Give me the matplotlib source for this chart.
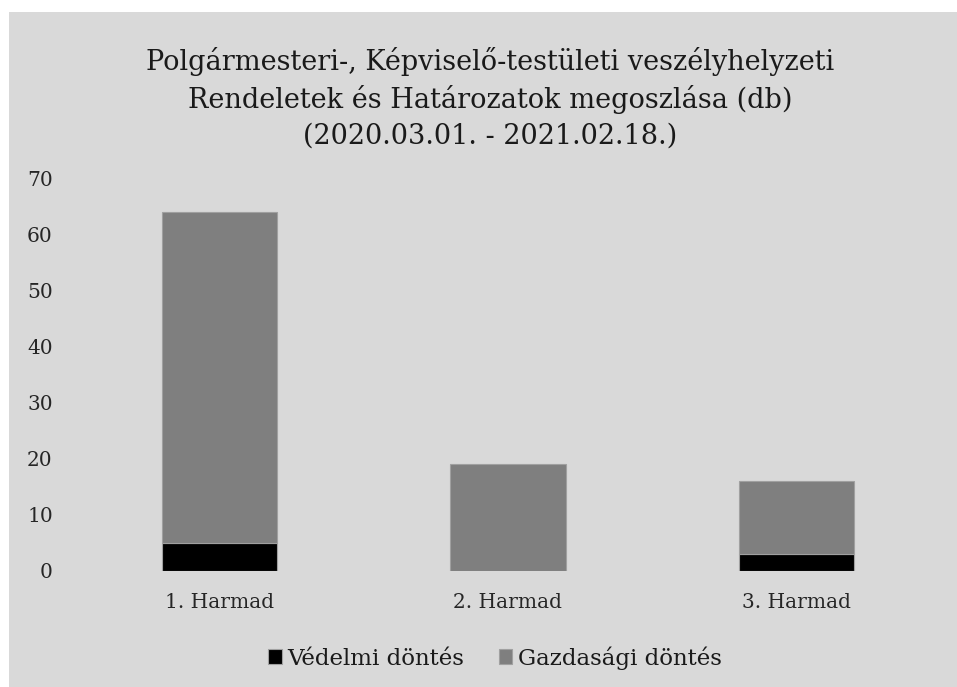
import matplotlib.pyplot as plt
import numpy as np
from matplotlib.patches import Rectangle

categories = ["1. Harmad", "2. Harmad", "3. Harmad"]
vedelmi = [5, 0, 3]
gazdasagi = [59, 19, 13]
yticks = [0, 10, 20, 30, 40, 50, 60, 70]
title = ("Polgármesteri-, Képviselő-testületi veszélyhelyzeti\n"
         "Rendeletek és Határozatok megoszlása (db)\n"
         "(2020.03.01. - 2021.02.18.)")

plt.rcParams["font.family"] = ["DejaVu Serif"]
BG = "#d9d9d9"
W, H = 957, 687

fig = plt.figure(figsize=(W / 100, H / 100), dpi=100, facecolor="white")
bg = Rectangle((9 / W, 0), 1 - 9 / W, 1 - 12 / H, transform=fig.transFigure,
               facecolor=BG, edgecolor="none", zorder=-10)
fig.add_artist(bg)

ax = fig.add_axes([75 / W, 1 - 571 / H, (941 - 75) / W, (571 - 178) / H])
ax.set_facecolor("none")
ax.set_zorder(2)

x = np.arange(len(categories))
ax.bar(x, vedelmi, width=0.4, color="black", edgecolor="#a0a0a0",
       linewidth=0.8, label="Védelmi döntés")
ax.bar(x, gazdasagi, width=0.4, bottom=vedelmi, color="#7f7f7f",
       edgecolor="#a0a0a0", linewidth=0.8, label="Gazdasági döntés")

ax.set_xlim(-0.5, len(categories) - 0.5)
ax.set_ylim(0, 70)
ax.set_yticks(yticks)
ax.set_xticks(x)
ax.set_xticklabels(categories)
ax.tick_params(axis="both", length=0, labelsize=14.5, colors="#262626")
ax.tick_params(axis="y", pad=16)
ax.tick_params(axis="x", pad=16)
for s in ax.spines.values():
    s.set_visible(False)

fig.text(490 / W, 1 - 98 / H, title, ha="center", va="center",
         fontsize=19.5, color="#1a1a1a", linespacing=1.4)

leg = fig.legend(loc="center", bbox_to_anchor=(495 / W, 1 - 658 / H),
                 ncol=2, frameon=False, fontsize=16.5, handlelength=0.6,
                 handleheight=0.6, handletextpad=0.25, columnspacing=1.5)
for t in leg.get_texts():
    t.set_color("#1a1a1a")

fig.savefig("out.png", dpi=100, facecolor="white")
